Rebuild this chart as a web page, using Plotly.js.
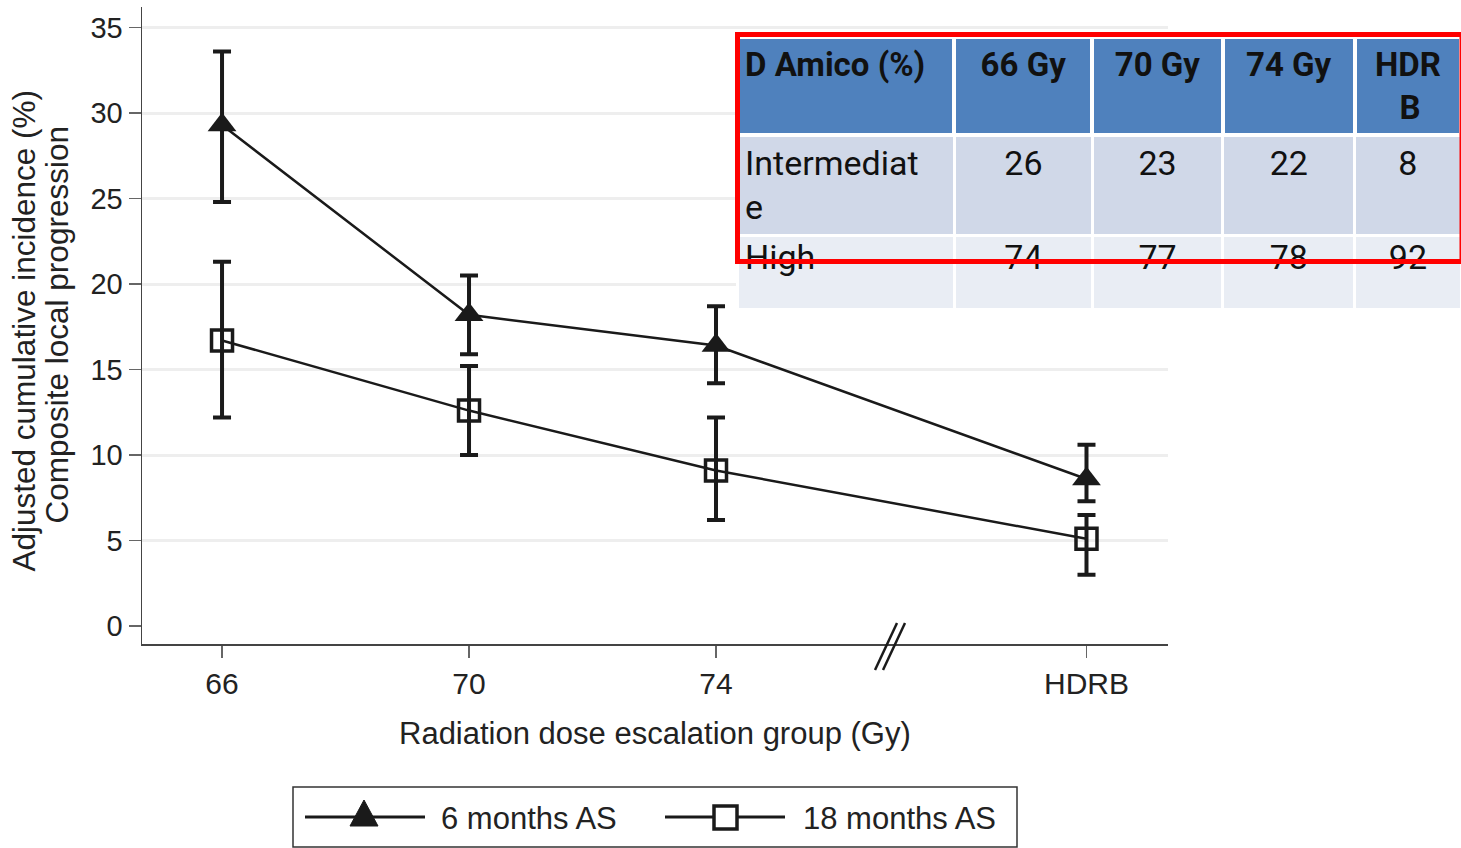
<!DOCTYPE html>
<html>
<head>
<meta charset="utf-8">
<script src="https://cdn.plot.ly/plotly-3.0.1.min.js"></script>
<style>html,body{margin:0;padding:0;background:#fff;}#chart{width:1461px;height:848px;}</style>
</head>
<body>
<div id="chart"></div>
<script>
// ---- data ----
const doseGroups = ['66', '70', '74', 'HDRB'];
const groupPos = [0, 1, 2, 3.5];
const sixMonthsMean = [29.3, 18.2, 16.4, 8.6];
const sixMonthsLow  = [24.8, 15.9, 14.2, 7.3];
const sixMonthsHigh = [33.6, 20.5, 18.7, 10.6];
const eighteenMonthsMean = [16.7, 12.6, 9.1, 5.1];
const eighteenMonthsLow  = [12.2, 10.0, 6.2, 3.0];
const eighteenMonthsHigh = [21.3, 15.2, 12.2, 6.5];
const yTicks = [0, 5, 10, 15, 20, 25, 30, 35];
const seriesNames = ['6 months AS', '18 months AS'];

const tableHeader = ['D Amico (%)', '66 Gy', '70 Gy', '74 Gy', 'HDR<br>\u00a0\u00a0\u00a0B'];
const tableRiskGroups = ['Intermediat<br>e', 'High'];
const table66 = [26, 74];
const table70 = [23, 77];
const table74 = [22, 78];
const tableHDRB = [8, 92];

// ---- layout helpers (pixels -> paper) ----
const W = 1461, H = 848;
const M = {l: 142, r: 0, t: 7, b: 204};
const PW = W - M.l - M.r, PH = H - M.t - M.b;
const px = v => (v - M.l) / PW;
const py = v => 1 - (v - M.t) / PH;

const ink = '#1a1a1a';
const FONT = 'Liberation Sans, Arial, sans-serif';
const TFONT = 'Liberation Sans Narrow, Roboto, sans-serif';

function diff(a, b) { return a.map((v, i) => v - b[i]); }
// first row shares the two-line layout of "Intermediat / e"
const fmtCol = col => col.map((v, i) => i === 0 ? v + '<br>\u00a0' : String(v));

const sixTrace = {
  type: 'scatter', mode: 'lines+markers', name: seriesNames[0], showlegend: false,
  x: groupPos, y: sixMonthsMean,
  line: {color: ink, width: 2.5},
  marker: {symbol: 'triangle-up', size: 25, color: ink, line: {width: 0}},
  error_y: {type: 'data', symmetric: false,
    array: diff(sixMonthsHigh, sixMonthsMean),
    arrayminus: diff(sixMonthsMean, sixMonthsLow),
    color: ink, thickness: 4, width: 9}
};
const eighteenTrace = {
  type: 'scatter', mode: 'lines+markers', name: seriesNames[1], showlegend: false,
  x: groupPos, y: eighteenMonthsMean,
  line: {color: ink, width: 2.5},
  marker: {symbol: 'square-open', size: 21, color: ink, line: {width: 3.5, color: ink}},
  error_y: {type: 'data', symmetric: false,
    array: diff(eighteenMonthsHigh, eighteenMonthsMean),
    arrayminus: diff(eighteenMonthsMean, eighteenMonthsLow),
    color: ink, thickness: 4, width: 9}
};

const tableTrace = {
  type: 'table',
  domain: {x: [px(737), 1], y: [py(420), py(37)]},
  columnwidth: [217, 138, 130, 132, 106],
  header: {
    values: tableHeader.map(h => '<b>' + h + '</b>'),
    align: ['left', 'center', 'center', 'center', 'center'],
    fill: {color: '#4F81BD'},
    line: {color: '#ffffff', width: 4},
    font: {family: TFONT, size: 33, color: '#111'},
    height: 93
  },
  cells: {
    values: [tableRiskGroups, fmtCol(table66), fmtCol(table70), fmtCol(table74), fmtCol(tableHDRB)],
    align: ['left', 'center', 'center', 'center', 'center'],
    fill: {color: [['#D0D8E8', '#E9EDF4']]},
    line: {color: '#ffffff', width: 3},
    font: {family: TFONT, size: 34, color: '#111'},
    height: 74
  }
};

// manual legend geometry (pixels)
const LEG = {x0: 293, x1: 1017, y0: 787, y1: 847, yc: 817};
const legendShapes = [
  {type: 'rect', xref: 'paper', yref: 'paper', x0: px(LEG.x0), x1: px(LEG.x1), y0: py(LEG.y1), y1: py(LEG.y0),
   line: {color: '#333', width: 1.5}, fillcolor: 'rgba(0,0,0,0)'},
  {type: 'line', xref: 'paper', yref: 'paper', x0: px(305), x1: px(425), y0: py(LEG.yc), y1: py(LEG.yc),
   line: {color: ink, width: 3}},
  {type: 'path', xref: 'paper', yref: 'paper',
   path: `M${px(350)},${py(826)} L${px(364)},${py(800)} L${px(378)},${py(826)} Z`,
   fillcolor: ink, line: {color: ink, width: 1}},
  {type: 'line', xref: 'paper', yref: 'paper', x0: px(665), x1: px(785), y0: py(LEG.yc), y1: py(LEG.yc),
   line: {color: ink, width: 3}},
  {type: 'rect', xref: 'paper', yref: 'paper', x0: px(714), x1: px(737), y0: py(829), y1: py(806),
   fillcolor: '#ffffff', line: {color: ink, width: 3.5}}
];

const layout = {
  width: W, height: H,
  margin: M,
  paper_bgcolor: '#fff', plot_bgcolor: '#fff',
  font: {family: FONT, color: '#222'},
  showlegend: false,
  xaxis: {
    domain: [0, 1026 / PW],
    range: [-0.324, 3.83],
    tickvals: groupPos, ticktext: doseGroups,
    ticks: 'outside', ticklen: 12, tickwidth: 1.5, tickcolor: '#666',
    showline: true, linecolor: '#444', linewidth: 1.5,
    showgrid: false, zeroline: false,
    tickfont: {size: 30, color: '#222'}
  },
  yaxis: {
    range: [-1.05, 36.2],
    tickvals: yTicks,
    ticks: 'outside', ticklen: 12, tickwidth: 1.5, tickcolor: '#666',
    showline: true, linecolor: '#444', linewidth: 1.5,
    showgrid: true, gridcolor: '#EEEEEE', gridwidth: 3,
    zeroline: true, zerolinecolor: '#ffffff', zerolinewidth: 1,
    tickfont: {size: 29, color: '#222'}
  },
  annotations: [
    {text: 'Radiation dose escalation group (Gy)', xref: 'paper', yref: 'paper',
     x: px(655), y: py(733), xanchor: 'center', yanchor: 'middle', showarrow: false,
     font: {size: 31, color: '#222'}},
    {text: 'Adjusted cumulative incidence (%)', xref: 'paper', yref: 'paper',
     x: px(24), y: py(331.5), xanchor: 'center', yanchor: 'middle', showarrow: false,
     textangle: -90, font: {size: 31.5, color: '#222'}},
    {text: 'Composite local progression', xref: 'paper', yref: 'paper',
     x: px(56.5), y: py(325), xanchor: 'center', yanchor: 'middle', showarrow: false,
     textangle: -90, font: {size: 31.5, color: '#222'}},
    {text: seriesNames[0], xref: 'paper', yref: 'paper',
     x: px(439), y: py(818), xanchor: 'left', yanchor: 'middle', showarrow: false,
     font: {size: 31, color: '#222'}},
    {text: seriesNames[1], xref: 'paper', yref: 'paper',
     x: px(801), y: py(818), xanchor: 'left', yanchor: 'middle', showarrow: false,
     font: {size: 31, color: '#222'}}
  ],
  shapes: [
    {type: 'line', xref: 'paper', yref: 'paper', x0: px(875), x1: px(897), y0: py(670), y1: py(623),
     line: {color: ink, width: 2.5}},
    {type: 'line', xref: 'paper', yref: 'paper', x0: px(883), x1: px(905), y0: py(670), y1: py(623),
     line: {color: ink, width: 2.5}},
    {type: 'rect', xref: 'paper', yref: 'paper', x0: px(737.5), x1: px(1462), y0: py(261.5), y1: py(34.5),
     line: {color: '#FF0000', width: 5}, layer: 'above'}
  ].concat(legendShapes)
};

Plotly.newPlot('chart', [sixTrace, eighteenTrace, tableTrace], layout, {displayModeBar: false, staticPlot: true});
</script>
</body>
</html>
